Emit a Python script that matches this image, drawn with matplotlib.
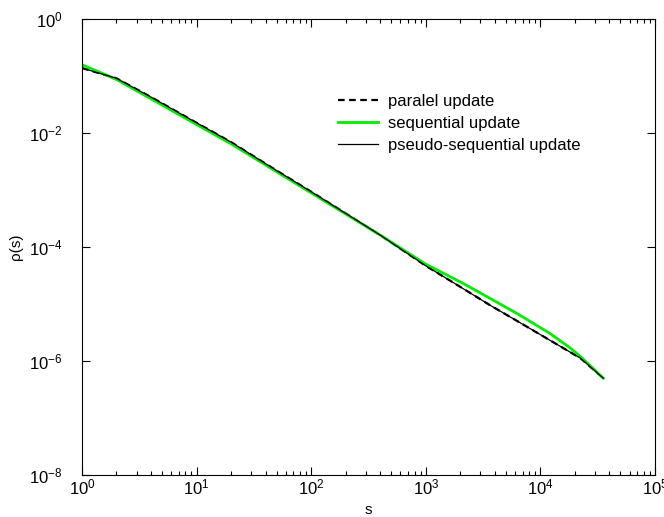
import matplotlib
matplotlib.use("Agg")
import matplotlib.pyplot as plt
import numpy as np
from matplotlib.ticker import LogLocator, NullLocator

plt.rcParams['font.family'] = ['Liberation Sans', 'DejaVu Sans']
plt.rcParams['mathtext.fontset'] = 'custom'
plt.rcParams['mathtext.rm'] = 'Liberation Sans'
plt.rcParams['mathtext.it'] = 'Liberation Sans:italic'

# avalanche size distribution
s_black = [1, 2, 4, 10, 20, 50, 100, 200, 400, 1000, 2000, 3630, 6300,
           12000, 22400, 35400]
rho_paralel = [0.138, 0.0912, 0.0427, 0.0151, 0.00692, 0.00219, 9.33e-4,
               3.89e-4, 1.62e-4, 4.68e-5, 2.0e-5, 9.55e-6, 5.01e-6,
               2.34e-6, 1.12e-6, 5.0e-7]
rho_pseudo = [0.138, 0.0912, 0.0427, 0.0151, 0.00692, 0.00219, 9.33e-4,
              3.89e-4, 1.62e-4, 4.68e-5, 2.0e-5, 9.55e-6, 5.01e-6,
              2.34e-6, 1.12e-6, 5.0e-7]

s_green = [1, 2, 4, 10, 20, 50, 100, 200, 400, 1000, 2000, 3630, 6300,
           12000, 18200, 22400, 35400]
rho_sequential = [0.158, 0.0871, 0.0398, 0.0141, 0.00646, 0.00209, 8.91e-4,
                  3.80e-4, 1.62e-4, 5.0e-5, 2.45e-5, 1.26e-5, 6.76e-6,
                  3.09e-6, 1.70e-6, 1.20e-6, 5.0e-7]

fig = plt.figure(figsize=(6.64, 5.17), dpi=100)
ax = fig.add_axes([0.1235, 0.0812, 0.8629, 0.882])

ax.plot(s_black, rho_paralel, color='black', lw=1.6, ls=(0, (3, 2)),
        label='paralel update')
ax.plot(s_green, rho_sequential, color='#00ee00', lw=2.0,
        label='sequential update')
ax.plot(s_black, rho_pseudo, color='black', lw=0.9,
        label='pseudo-sequential update')

ax.set_xscale('log')
ax.set_yscale('log')
ax.set_xlim(1, 1e5)
ax.set_ylim(1e-8, 1)

ax.xaxis.set_major_locator(LogLocator(base=10, numticks=10))
ax.xaxis.set_minor_locator(LogLocator(base=10, subs=np.arange(2, 10), numticks=20))
ax.yaxis.set_major_locator(LogLocator(base=100, numticks=10))
ax.yaxis.set_minor_locator(NullLocator())

ax.tick_params(which='both', direction='in', top=True, right=True,
               labelsize=12)
ax.tick_params(which='major', length=6, width=0.8)
ax.tick_params(which='minor', length=3, width=0.8)
ax.tick_params(axis='x', pad=2)
ax.tick_params(axis='y', pad=14)

ax.set_xlabel('s', fontsize=11, labelpad=4)
ax.set_ylabel('ρ(s)', fontsize=11, labelpad=4)

ax.legend(loc='upper left', bbox_to_anchor=(0.42, 0.868), frameon=False,
          fontsize=12, handlelength=2.4, handletextpad=0.6, labelspacing=0.42)

fig.savefig('out.png', dpi=100)
